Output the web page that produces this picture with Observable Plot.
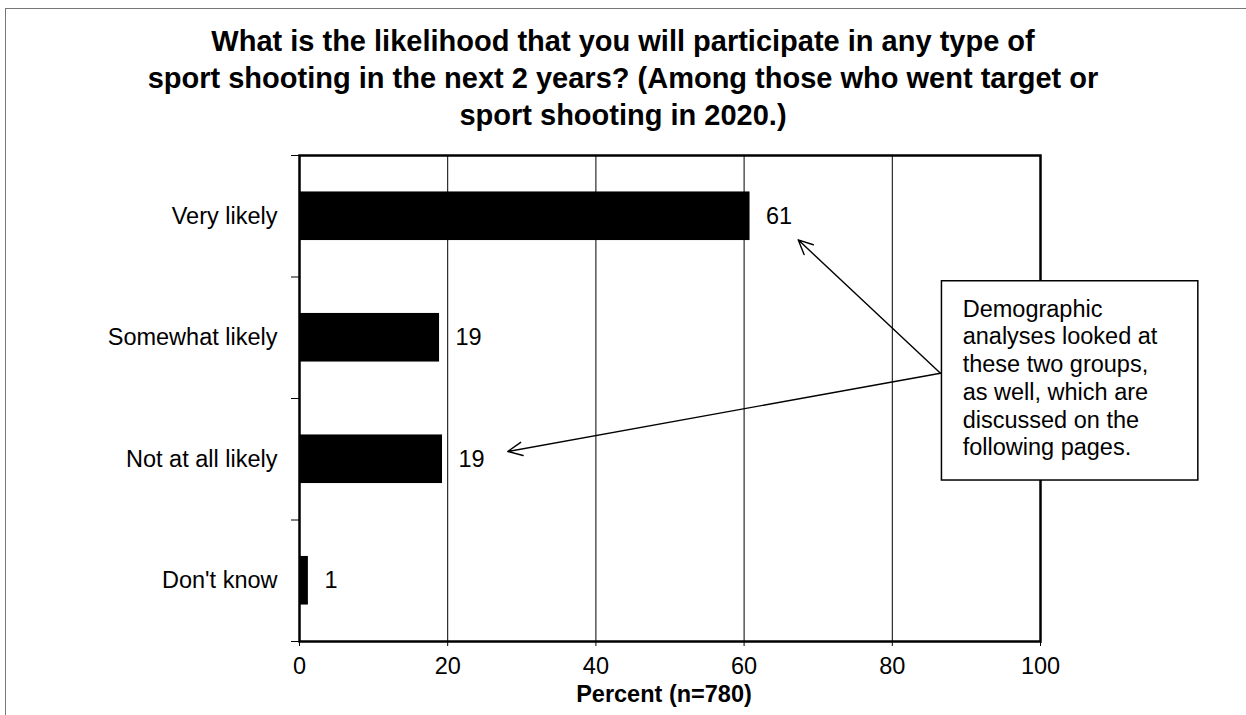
<!DOCTYPE html>
<html>
<head>
<meta charset="utf-8">
<script src="https://cdn.jsdelivr.net/npm/d3@7"></script>
<script src="https://cdn.jsdelivr.net/npm/@observablehq/plot@0.6"></script>
<style>
  html, body { margin: 0; padding: 0; background: #fff; }
  #page { position: relative; width: 1246px; height: 715px; overflow: hidden; background: #fff;
          font-family: "Liberation Sans", Arial, sans-serif; color: #000; }
  #frame { position: absolute; left: 5px; top: 8px; width: 1250px; height: 720px; z-index: 5;
           border-left: 1px solid #777; border-top: 1px solid #777; pointer-events: none; }
  #title { position: absolute; left: 0; top: 23px; width: 1246px; text-align: center;
           font-weight: bold; font-size: 29px; line-height: 37px; white-space: nowrap; }
  #chart { position: absolute; left: 0; top: 130px; }
</style>
</head>
<body>
<div id="page">
  <div id="title"></div>
  <div id="chart"></div>
  <div id="frame"></div>
</div>
<script>
// ---- data ----
const titleLines = [
  "What is the likelihood that you will participate in any type of",
  "sport shooting in the next 2 years? (Among those who went target or",
  "sport shooting in 2020.)"
];
const categories = ["Very likely", "Somewhat likely", "Not at all likely", "Don't know"];
const percents = [60.8, 18.9, 19.3, 1.2];
const valueLabels = ["61", "19", "19", "1"];
const xTicks = [0, 20, 40, 60, 80, 100];
const gridValues = [20, 40, 60, 80];
const xLabel = "Percent (n=780)";
const noteLines = [
  "Demographic",
  "analyses looked at",
  "these two groups,",
  "as well, which are",
  "discussed on the",
  "following pages."
];

// ---- callout annotation anchors (x in percent units, y in category-band units) ----
const noteBox = {x1: 86.7, x2: 121.3, y1: 1.035, y2: 2.675};
const noteTextAnchor = {x: 89.5, y: 1.165};
const noteArrows = [
  {x1: 86.5, y1: 1.792, x2: 67.3, y2: 0.694},
  {x1: 86.5, y1: 1.792, x2: 28.1, y2: 2.436}
];

document.getElementById("title").innerHTML = titleLines.join("<br>");

const rows = categories.map((c, i) => ({category: c, index: i, value: percents[i], label: valueLabels[i]}));
const bandEdges = d3.range(categories.length + 1);

const chart = Plot.plot({
  width: 1246,
  height: 585,
  marginTop: 25,
  marginBottom: 74,
  marginLeft: 299,
  marginRight: 206,
  style: {fontFamily: "'Liberation Sans', Arial, sans-serif", fontSize: "23.5px", color: "#000", background: "transparent", overflow: "visible"},
  x: {domain: [0, 100], ticks: xTicks, tickSize: 5, tickPadding: 11, label: null},
  y: {domain: [0, categories.length], reverse: true, ticks: bandEdges, tickFormat: () => "", tickSize: 8, label: null},
  marks: [
    Plot.ruleX(gridValues, {stroke: "#000", strokeWidth: 1}),
    Plot.rect(rows, {x1: 0, x2: "value", y1: d => d.index + 0.3, y2: d => d.index + 0.7, fill: "#000"}),
    Plot.text(rows, {x: 0, y: d => d.index + 0.5, text: "category", textAnchor: "end", dx: -22}),
    Plot.text(rows, {x: "value", y: d => d.index + 0.5, text: "label", textAnchor: "start", dx: 16}),
    Plot.frame({stroke: "#000", strokeWidth: 2.5}),
    Plot.arrow(noteArrows, {x1: "x1", y1: "y1", x2: "x2", y2: "y2", stroke: "#000", strokeWidth: 1.4, headLength: 17, headAngle: 50}),
    Plot.rect([noteBox], {x1: "x1", x2: "x2", y1: "y1", y2: "y2", fill: "#fff", stroke: "#000", strokeWidth: 1.5}),
    Plot.text([noteTextAnchor], {x: "x", y: "y", text: () => noteLines.join("\n"), textAnchor: "start", lineAnchor: "top", lineHeight: 1.18}),
    Plot.text([xLabel], {text: d => d, frameAnchor: "bottom", dy: 60, dx: -6, fontWeight: "bold"})
  ]
});
document.getElementById("chart").appendChild(chart);
</script>
</body>
</html>
